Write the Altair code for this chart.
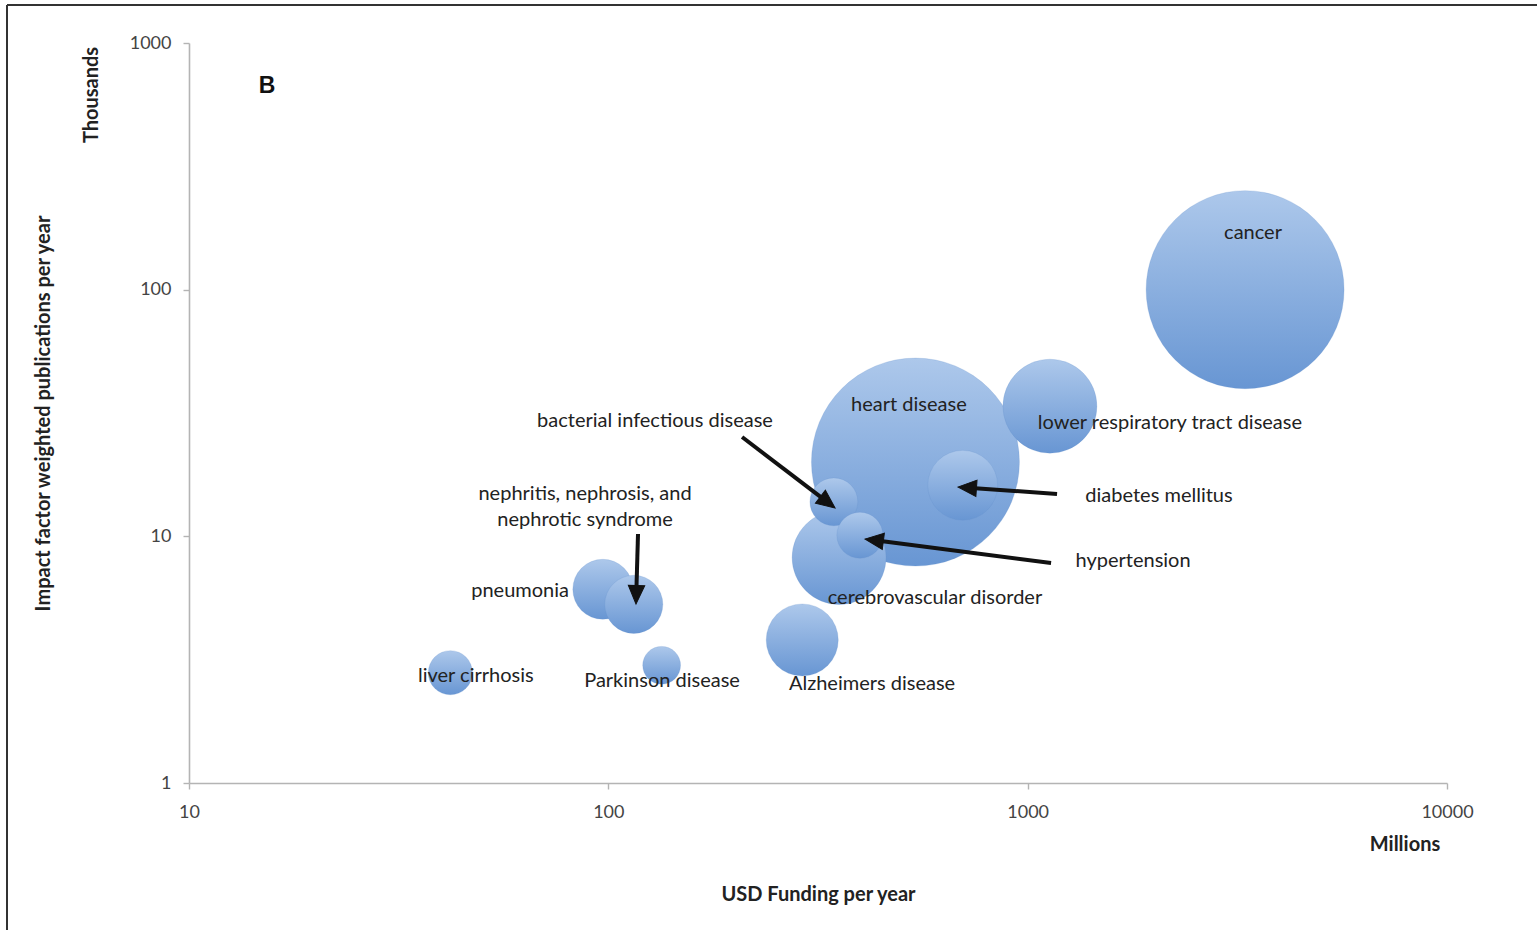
import math
import altair as alt
import pandas as pd

# ---------------- data ----------------
diseases = [
    "cancer", "heart disease", "lower respiratory tract disease", "diabetes mellitus",
    "cerebrovascular disorder", "Alzheimers disease", "pneumonia",
    "nephritis, nephrosis, and nephrotic syndrome", "bacterial infectious disease",
    "hypertension", "liver cirrhosis", "Parkinson disease",
]
funding_musd = [3300, 540, 1130, 700, 355, 290, 97, 115, 345, 398, 42, 134]
pubs_thousands = [100, 20, 33.7, 16.1, 8.2, 3.8, 6.1, 5.3, 13.8, 10.1, 2.8, 3.0]
burden = [90.6, 100, 20.4, 11.3, 20.4, 12.0, 8.3, 7.8, 5.3, 4.9, 4.5, 3.3]

label_text = [
    "cancer", "heart disease", "lower respiratory tract disease", "diabetes mellitus",
    "cerebrovascular disorder", "Alzheimers disease", "pneumonia",
    ["nephritis, nephrosis, and", "nephrotic syndrome"], "bacterial infectious disease",
    "hypertension", "liver cirrhosis", "Parkinson disease",
]
label_x = [3447, 521, 2184, 2057, 601, 425.4, 61.6, 88.0, 129.2, 1784, 48.3, 134.3]
label_y = [169.7, 34.1, 28.8, 14.6, 5.62, 2.52, 6.0, 14.85, 29.4, 7.94, 2.716, 2.59]

arrow_tail_x = [208.4, 117.7, 1175, 1137]
arrow_tail_y = [25.27, 10.22, 14.85, 7.80]
arrow_tip_x = [347.3, 116.4, 682.3, 409.4]
arrow_tip_y = [13.03, 5.318, 15.85, 9.75]

x_ticks = [10, 100, 1000, 10000]
y_ticks = [1, 10, 100, 1000]

# ---------------- layout ----------------
W, H = 1258, 740
XDEC, YDEC = W / 3.0, H / 3.0
FONT = "Lato"

bubbles = pd.DataFrame({
    "disease": diseases, "funding": funding_musd, "pubs": pubs_thousands, "burden": burden,
})
labels = pd.DataFrame({"text": label_text, "lx": label_x, "ly": label_y})

rows = []
for tx, ty, hx, hy in zip(arrow_tail_x, arrow_tail_y, arrow_tip_x, arrow_tip_y):
    dx = (math.log10(hx) - math.log10(tx)) * XDEC
    dy = -(math.log10(hy) - math.log10(ty)) * YDEC
    L = math.hypot(dx, dy)
    ux, uy = dx / L, dy / L
    ang = math.degrees(math.atan2(dx, -dy)) % 360
    back = 10
    ex = 10 ** (math.log10(hx) - back * ux / XDEC)
    ey = 10 ** (math.log10(hy) + back * uy / YDEC)
    rows.append({"tx": tx, "ty": ty, "ex": ex, "ey": ey, "hx": hx, "hy": hy, "ang": ang})
arrows = pd.DataFrame(rows)

xscale = alt.Scale(type="log", domain=[10, 10000], nice=False)
yscale = alt.Scale(type="log", domain=[1, 1000], nice=False)

gradient = alt.Gradient(
    gradient="linear",
    stops=[alt.GradientStop(color="#adc8eb", offset=0),
           alt.GradientStop(color="#6896d3", offset=1)],
    x1=0, x2=0, y1=0, y2=1,
)

base = alt.Chart(bubbles)

bubble_layer = base.mark_circle(fill=gradient, opacity=1, stroke="#5f8cc6", strokeWidth=0.4, strokeOpacity=0.5).encode(
    x=alt.X("funding:Q", scale=xscale,
            axis=alt.Axis(values=x_ticks, format="d", title="USD Funding per year",
                          labelFlush=False,
                          titleX=W / 2, titleY=111, titleBaseline="middle", titleAlign="center")),
    y=alt.Y("pubs:Q", scale=yscale,
            axis=alt.Axis(values=y_ticks, format="d",
                          labelFlush=False,
                          title="Impact factor weighted publications per year",
                          titleX=-146, titleY=H / 2, titleAngle=270,
                          titleAlign="center", titleBaseline="middle")),
    size=alt.Size("burden:Q", scale=alt.Scale(domain=[0, 100], range=[0, (2 * 104) ** 2]), legend=None),
    order=alt.Order("burden:Q", sort="descending"),
)

label_layer = alt.Chart(labels).mark_text(
    font=FONT, fontSize=20, color="#222222", align="center", baseline="middle", lineHeight=26
).encode(
    x=alt.X("lx:Q", scale=xscale),
    y=alt.Y("ly:Q", scale=yscale),
    text="text",
)

arrow_lines = alt.Chart(arrows).mark_rule(color="#111111", strokeWidth=4).encode(
    x=alt.X("tx:Q", scale=xscale), y=alt.Y("ty:Q", scale=yscale),
    x2="ex:Q", y2="ey:Q",
)

arrow_heads = alt.Chart(arrows).mark_point(
    shape="M0,0L-0.8,1.8L0.8,1.8Z", filled=True, fill="#111111", stroke="#111111",
    strokeWidth=1, size=420, opacity=1,
).encode(
    x=alt.X("hx:Q", scale=xscale), y=alt.Y("hy:Q", scale=yscale),
    angle=alt.Angle("ang:Q", scale=None),
)

one = pd.DataFrame({"k": [0]})
thousands = alt.Chart(one).mark_text(
    text="Thousands", font=FONT, fontSize=20, fontWeight="bold", color="#222222",
    angle=270, align="center", baseline="middle",
).encode(x=alt.value(-97), y=alt.value(52))
millions = alt.Chart(one).mark_text(
    text="Millions", font=FONT, fontSize=20, fontWeight="bold", color="#222222",
    align="center", baseline="middle",
).encode(x=alt.value(1216), y=alt.value(802))
panel = alt.Chart(one).mark_text(
    text="B", font="Liberation Sans", fontSize=23, fontWeight="bold", color="#111111",
    align="center", baseline="middle",
).encode(x=alt.value(78), y=alt.value(43))
frame_top = alt.Chart(one).mark_rule(color="#333333", strokeWidth=2).encode(
    x=alt.value(-182), x2=alt.value(W + 100), y=alt.value(-38))
frame_left = alt.Chart(one).mark_rule(color="#333333", strokeWidth=2).encode(
    x=alt.value(-182), y=alt.value(-38), y2=alt.value(H + 150))

chart = alt.layer(
    bubble_layer, arrow_lines, arrow_heads, label_layer,
    thousands, millions, panel, frame_top, frame_left,
).properties(
    width=W, height=H,
    autosize=alt.AutoSizeParams(type="none"),
    padding={"left": 189, "top": 43, "right": 90, "bottom": 147},
    background="white",
).configure_view(stroke=None).configure_axis(
    grid=False, domainColor="#b4b4b4", domainWidth=1.6, tickColor="#b4b4b4", tickWidth=1.4,
    tickSize=6, labelFont=FONT, labelFontSize=18, labelColor="#444444",
    titleFont=FONT, titleFontSize=20, titleFontWeight="bold", titleColor="#222222",
).configure_axisX(labelPadding=14).configure_axisY(labelPadding=12)

chart.save("out.html", embed_options={"renderer": "svg", "actions": False})
